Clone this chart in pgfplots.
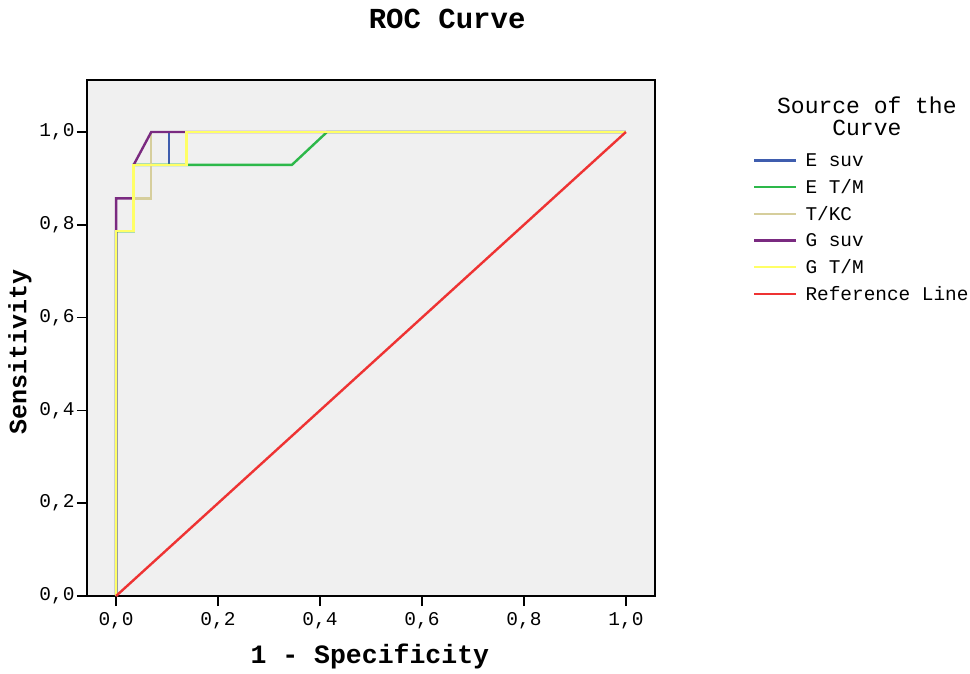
\documentclass[border=0pt]{standalone}
\usepackage{fontspec}
\setmainfont{Liberation Mono}
\usepackage{pgfplots}
\pgfplotsset{compat=1.18}
\definecolor{esuv}{HTML}{3F5DAE}
\definecolor{etm}{HTML}{2DB84A}
\definecolor{tkc}{HTML}{D6CE9C}
\definecolor{gsuv}{HTML}{7A2A80}
\definecolor{gtm}{HTML}{FFFF66}
\definecolor{refl}{HTML}{EE3333}
\definecolor{bg}{HTML}{F0F0F0}

\begin{document}
\begin{tikzpicture}
\begin{axis}[
  scale only axis, width=568pt, height=516pt,
  xmin=-0.057, xmax=1.057, ymin=0, ymax=1.112,
  axis background/.style={fill=bg},
  axis line style={line width=1.6pt},
  tick align=outside, major tick length=10pt,
  tick style={line width=1.6pt, black},
  xtick={0,0.2,...,1.0}, ytick={0,0.2,...,1.0},
  xtick pos=bottom, ytick pos=left,
  /pgf/number format/assume math mode=true,
  /pgf/number format/.cd, use comma, fixed, fixed zerofill, precision=1, /pgfplots/.cd,
  ticklabel style={font=\fontsize{19.5}{19.5}\selectfont},
  xticklabel style={yshift=-3pt},
  yticklabel style={xshift=1pt},
  clip=false,
  legend cell align=left,
  legend style={draw=none, fill=none, at={(1.167,0.866)}, anchor=north west,
    font=\fontsize{19.4}{19.4}\selectfont, row sep=7.5pt,
    /tikz/every even column/.append style={column sep=2pt},
    /tikz/every odd column/.append style={column sep=6pt}},
  legend image code/.code={\draw[#1, line width=2.5pt] (0pt,0pt) -- (42pt,0pt);},
]
\addplot[esuv, line width=2.4pt] coordinates {
  (0,0)(0,0.786)(0.0345,0.786)(0.0345,0.929)(0.1034,0.929)(0.1034,1)(1,1)};
\addlegendentry{E suv}
\addplot[etm, line width=2.4pt] coordinates {
  (0,0)(0,0.786)(0.0345,0.786)(0.0345,0.929)(0.3448,0.929)(0.4138,1)(1,1)};
\addlegendentry{E T/M}
\addplot[tkc, line width=2.4pt] coordinates {
  (0,0)(0,0.786)(0.0345,0.786)(0.0345,0.857)(0.0690,0.857)(0.0690,1)(1,1)};
\addlegendentry{T/KC}
\addplot[gsuv, line width=2.4pt] coordinates {
  (0,0)(0,0.857)(0.0345,0.857)(0.0345,0.929)(0.0690,1)(1,1)};
\addlegendentry{G suv}
\addplot[gtm, line width=2.4pt] coordinates {
  (0,0)(0,0.786)(0.0345,0.786)(0.0345,0.929)(0.1379,0.929)(0.1379,1)(1,1)};
\addlegendentry{G T/M}
\addplot[refl, line width=2.4pt] coordinates {(0,0)(1,1)};
\addlegendentry{Reference Line}
\node[font=\fontsize{29}{29}\selectfont\bfseries] at (rel axis cs:0.634,1.118) {ROC Curve};
\node[font=\fontsize{26.5}{26.5}\selectfont\bfseries] at (rel axis cs:0.498,-0.118) {1 - Specificity};
\node[font=\fontsize{25}{25}\selectfont\bfseries, rotate=90] at (rel axis cs:-0.118,0.473) {Sensitivity};
\node[font=\fontsize{23}{22}\selectfont, align=center] at (rel axis cs:1.373,0.93) {Source of the\\Curve};
\end{axis}
\pgfresetboundingbox
\path ([shift={(-87pt,-77pt)}]current axis.south west) rectangle ([shift={(315pt,80pt)}]current axis.north east);
\end{tikzpicture}
\end{document}
